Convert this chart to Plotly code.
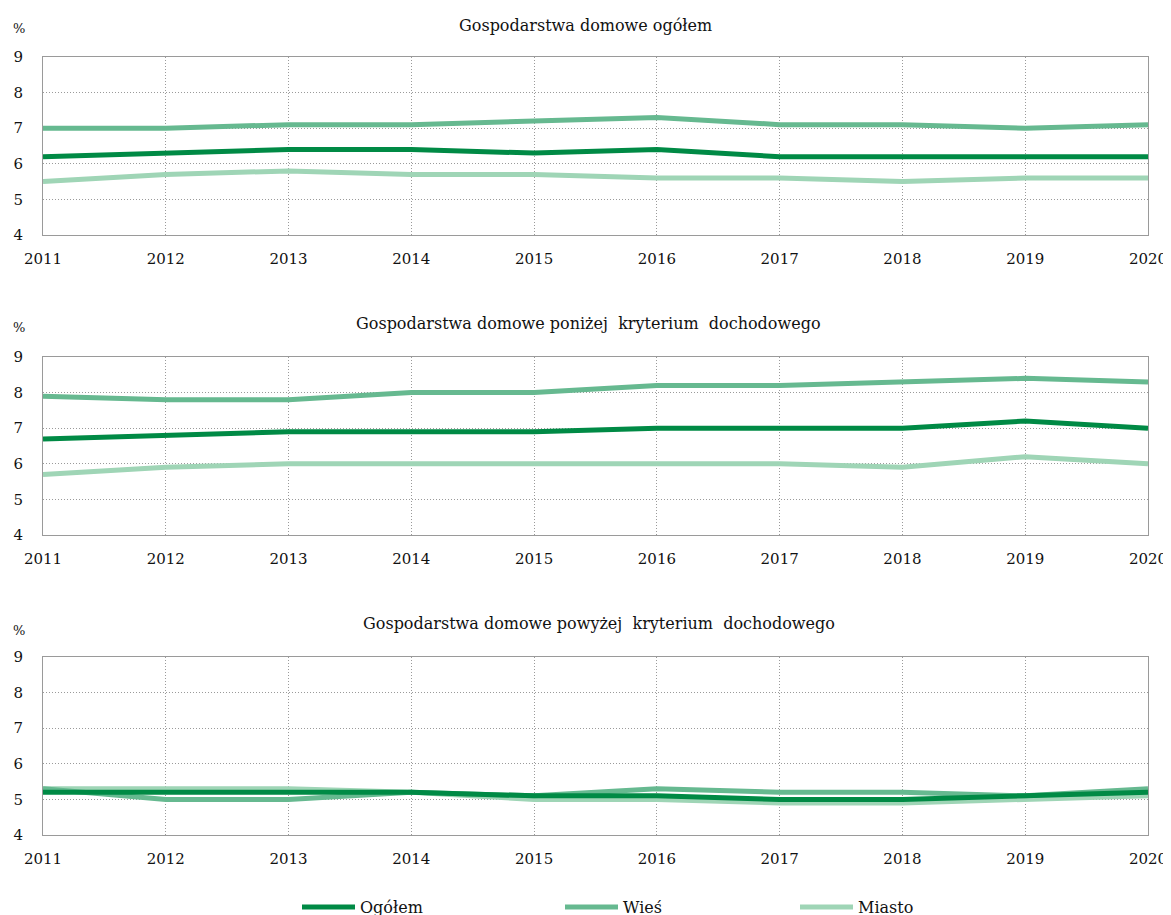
import plotly.graph_objects as go

years = [2011, 2012, 2013, 2014, 2015, 2016, 2017, 2018, 2019, 2020]

# Gospodarstwa domowe ogółem
ogolem_1 = [6.2, 6.3, 6.4, 6.4, 6.3, 6.4, 6.2, 6.2, 6.2, 6.2]
wies_1 = [7.0, 7.0, 7.1, 7.1, 7.2, 7.3, 7.1, 7.1, 7.0, 7.1]
miasto_1 = [5.5, 5.7, 5.8, 5.7, 5.7, 5.6, 5.6, 5.5, 5.6, 5.6]

# poniżej kryterium dochodowego
ogolem_2 = [6.7, 6.8, 6.9, 6.9, 6.9, 7.0, 7.0, 7.0, 7.2, 7.0]
wies_2 = [7.9, 7.8, 7.8, 8.0, 8.0, 8.2, 8.2, 8.3, 8.4, 8.3]
miasto_2 = [5.7, 5.9, 6.0, 6.0, 6.0, 6.0, 6.0, 5.9, 6.2, 6.0]

# powyżej kryterium dochodowego
ogolem_3 = [5.2, 5.2, 5.2, 5.2, 5.1, 5.1, 5.0, 5.0, 5.1, 5.2]
wies_3 = [5.3, 5.0, 5.0, 5.2, 5.1, 5.3, 5.2, 5.2, 5.1, 5.3]
miasto_3 = [5.3, 5.3, 5.3, 5.2, 5.0, 5.0, 4.9, 4.9, 5.0, 5.1]

titles = ["Gospodarstwa domowe ogółem",
          "Gospodarstwa domowe poniżej  kryterium  dochodowego",
          "Gospodarstwa domowe powyżej  kryterium  dochodowego"]
series_names = ["Ogółem", "Wieś", "Miasto"]
colors = {"Ogółem": "#008a45", "Wieś": "#66b990", "Miasto": "#9fd5b6"}

# the page body puts the figure 8px in; figure is a bit taller than the window
# so the legend at the bottom doesn't push the margins
OFF = 8
W, H = 1163, 925
left, right = 43, 1148
font = "DejaVu Serif, serif"

# page pixel -> paper fraction
def fx(px):
    return (px - OFF) / W

def fy(py):
    return 1 - (py - OFF) / H

# page pixel extents of each panel (top, bottom), title and % positions
panels = [(57, 235), (357, 535), (657, 835)]
title_y = [25, 323, 623]
title_x = [585, 588, 599]
pct_y = [28, 327, 630]
data = [(ogolem_1, wies_1, miasto_1), (ogolem_2, wies_2, miasto_2), (ogolem_3, wies_3, miasto_3)]

fig = go.Figure()
legend_ids = {"Ogółem": "legend", "Wieś": "legend2", "Miasto": "legend3"}

for i, (vals, (pt, pb)) in enumerate(zip(data, panels)):
    n = "" if i == 0 else str(i + 1)
    series = dict(zip(series_names, vals))
    for name in ["Miasto", "Wieś", "Ogółem"]:
        fig.add_trace(go.Scatter(
            x=years, y=series[name], mode="lines", name=name,
            line=dict(color=colors[name], width=5),
            xaxis="x" + n, yaxis="y" + n,
            showlegend=(i == 0), legend=legend_ids[name]))
    ax = dict(range=[2011, 2020], tickmode="array", tickvals=years,
              ticktext=[str(y) for y in years], showgrid=True,
              gridcolor="#9a9a9a", griddash="1px,2px", gridwidth=1,
              showline=True, linecolor="#9a9a9a", linewidth=1, mirror=True,
              zeroline=False, ticks="", ticklabelstandoff=10, automargin=False,
              tickfont=dict(family=font, size=15, color="#111"),
              domain=[fx(left), fx(right)], anchor="y" + n, fixedrange=True)
    ay = dict(range=[4, 9], dtick=1, showgrid=True, gridcolor="#9a9a9a",
              griddash="1px,2px", gridwidth=1, showline=True, linecolor="#9a9a9a",
              linewidth=1, mirror=True, zeroline=False, ticks="",
              ticklabelstandoff=16, automargin=False,
              tickfont=dict(family=font, size=15, color="#111"),
              domain=[fy(pb), fy(pt)], anchor="x" + n, fixedrange=True)
    fig.update_layout({"xaxis" + n: ax, "yaxis" + n: ay})
    fig.add_annotation(text=titles[i], xref="paper", yref="paper",
                       x=fx(title_x[i]), y=fy(title_y[i]), xanchor="center", yanchor="middle",
                       showarrow=False, font=dict(family=font, size=16, color="#111"))
    fig.add_annotation(text="%", xref="paper", yref="paper",
                       x=fx(19), y=fy(pct_y[i]),
                       xanchor="center", yanchor="middle", showarrow=False,
                       font=dict(family=font, size=13, color="#111"))

leg_pos = {"legend": 297, "legend2": 560, "legend3": 795}
for lid, xp in leg_pos.items():
    fig.update_layout({lid: dict(
        orientation="h", xref="paper", yref="paper", xanchor="left", yanchor="middle",
        x=fx(xp), y=fy(907), font=dict(family=font, size=16, color="#111"),
        bgcolor="rgba(0,0,0,0)", itemwidth=53)})

fig.update_layout(
    width=W, height=H,
    margin=dict(l=0, r=0, t=0, b=0),
    plot_bgcolor="white", paper_bgcolor="white",
    font=dict(family=font, color="#111"),
)

fig.write_html("out.html")
